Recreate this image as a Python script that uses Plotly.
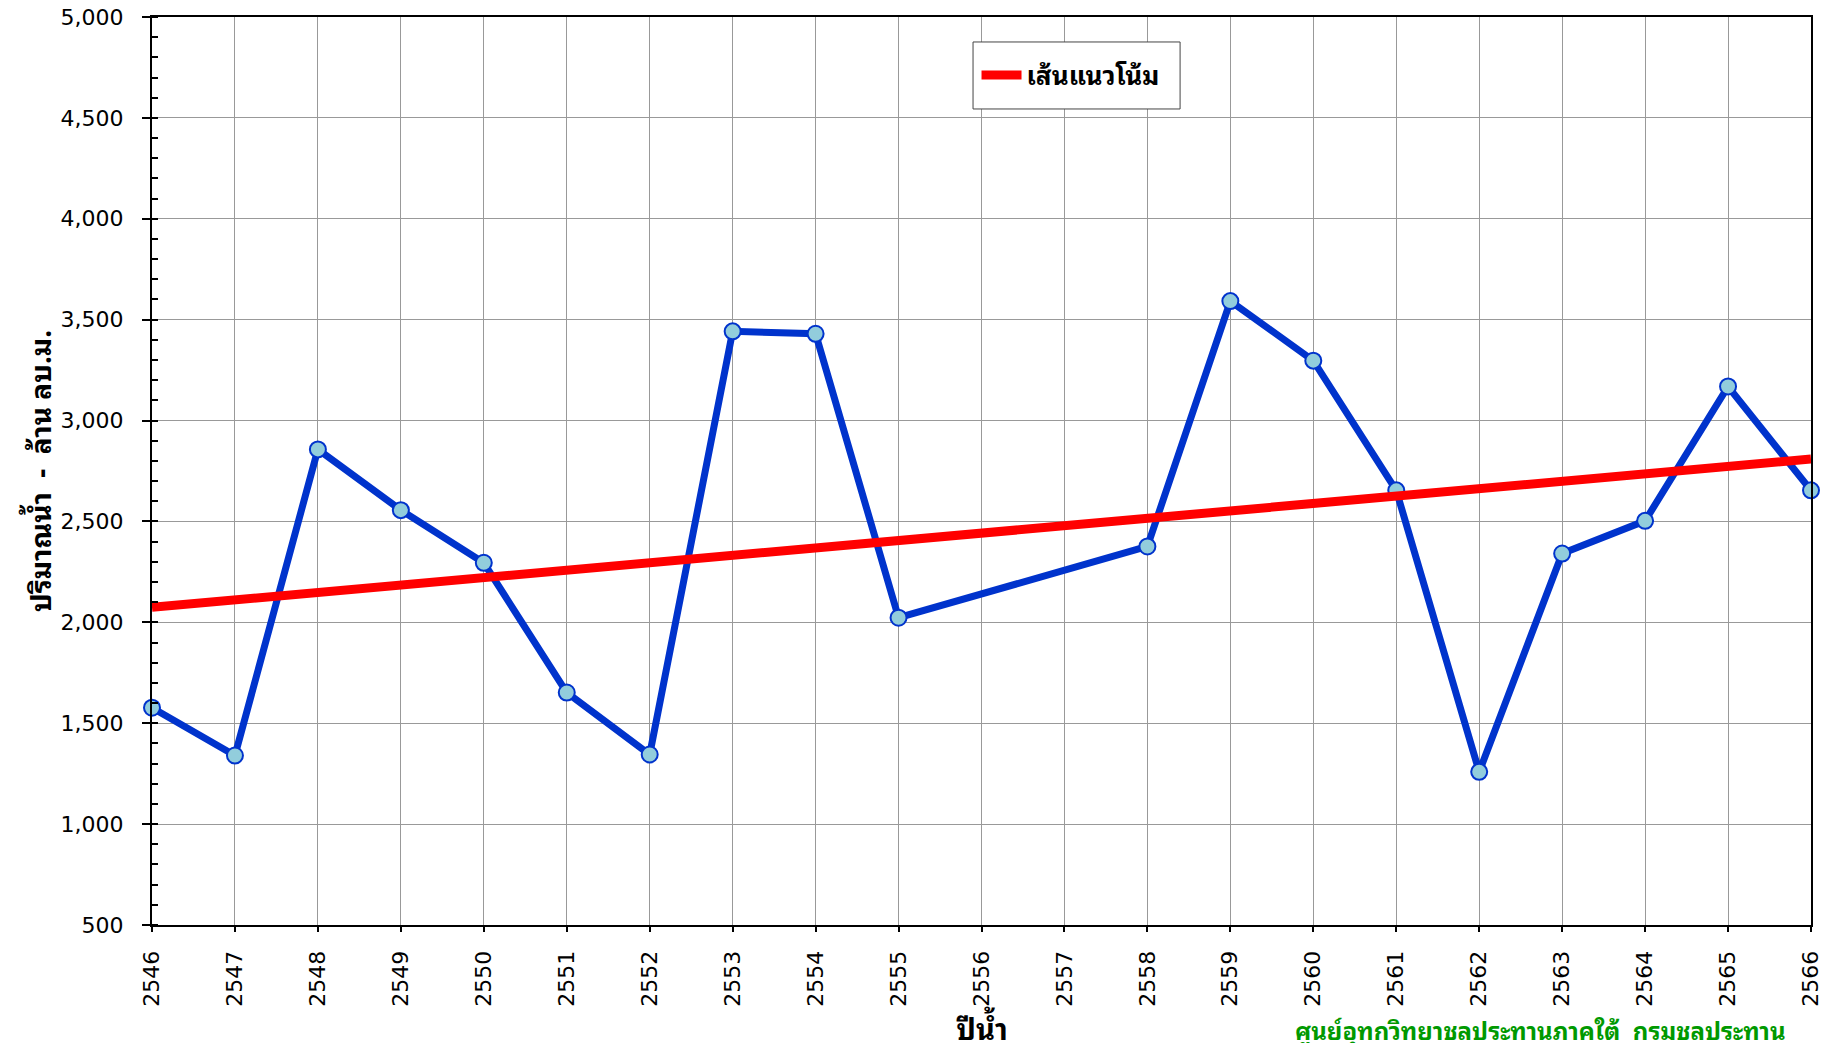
import numpy as np
import plotly.graph_objects as go

years = [2546, 2547, 2548, 2549, 2550, 2551, 2552, 2553, 2554, 2555,
         2558, 2559, 2560, 2561, 2562, 2563, 2564, 2565, 2566]
volume = [1577, 1340, 2857, 2556, 2295, 1652, 1345, 3442, 3430, 2023,
          2376, 3592, 3297, 2654, 1259, 2341, 2503, 3169, 2654]
x_ticks = list(range(2546, 2567))
y_ticks = [500, 1000, 1500, 2000, 2500, 3000, 3500, 4000, 4500, 5000]

# linear trend line (least squares)
coef = np.polyfit(years, volume, 1)
trend_x = [x_ticks[0], x_ticks[-1]]
trend_y = [float(np.polyval(coef, v)) for v in trend_x]

thai_font = "Noto Sans Thai Looped, Noto Sans Thai, Noto Sans, DejaVu Sans, sans-serif"

fig = go.Figure()
fig.add_trace(go.Scatter(
    x=years, y=volume, mode="lines+markers", showlegend=False,
    line=dict(color="#0033CC", width=7),
    marker=dict(size=16, color="#92CDDC", line=dict(color="#0033CC", width=2)),
    cliponaxis=False,
))
fig.add_trace(go.Scatter(
    x=trend_x, y=trend_y, mode="lines", name="เส้นแนวโน้ม",
    line=dict(color="#FF0000", width=9),
))

fig.update_layout(
    width=1816, height=1035,
    margin=dict(l=144, r=13, t=9, b=118),
    plot_bgcolor="white", paper_bgcolor="white",
    font=dict(family="DejaVu Sans, sans-serif", color="black"),
    legend=dict(
        x=0.497, y=0.936, xanchor="left", yanchor="middle",
        bgcolor="rgba(0,0,0,0)", borderwidth=0,
        font=dict(family=thai_font, size=26, color="black", weight="bold"),
        itemwidth=40,
    ),
    xaxis=dict(
        range=[2546, 2566], tickvals=x_ticks, ticktext=[str(v) for v in x_ticks],
        tickangle=-90, tickfont=dict(size=22),
        showgrid=True, gridcolor="#999999", gridwidth=1,
        showline=True, linecolor="black", linewidth=2, mirror=True,
        ticks="outside", ticklen=5, tickcolor="black", tickwidth=2,
        ticklabelstandoff=10, ticklabeloverflow="allow",
        zeroline=False, automargin=False,
    ),
    yaxis=dict(
        range=[500, 5000], tickvals=y_ticks, tickformat=",d",
        tickfont=dict(size=22),
        showgrid=True, gridcolor="#999999", gridwidth=1,
        showline=True, linecolor="black", linewidth=2, mirror=True,
        ticks="outside", ticklen=8, tickcolor="black", tickwidth=2,
        ticklabelstandoff=14, ticklabeloverflow="allow",
        zeroline=False, automargin=False,
        minor=dict(dtick=100, ticks="inside", ticklen=6, tickcolor="black", showgrid=False),
        title=dict(text="ปริมาณน้ำ  -  ล้าน ลบ.ม.", font=dict(family=thai_font, size=28, weight="bold"), standoff=0),
    ),
    shapes=[dict(
        type="rect", xref="paper", yref="paper",
        x0=0.4949, x1=0.6197, y0=0.8987, y1=0.9725,
        line=dict(color="#444444", width=1), fillcolor="white", layer="above",
    )],
)

# x-axis title
fig.add_annotation(
    text="<b>ปีน้ำ</b>", xref="paper", yref="paper", x=0.5, y=-0.112,
    xanchor="center", yanchor="middle", showarrow=False,
    font=dict(family=thai_font, size=29, color="black"),
)

fig.add_annotation(
    text="ศูนย์อุทกวิทยาชลประทานภาคใต้  กรมชลประทาน",
    xref="paper", yref="paper", x=0.986, y=-0.114, xanchor="right", yanchor="middle",
    showarrow=False, font=dict(family=thai_font, size=24, color="#009900", weight="bold"),
)

fig.write_html("out.html")
